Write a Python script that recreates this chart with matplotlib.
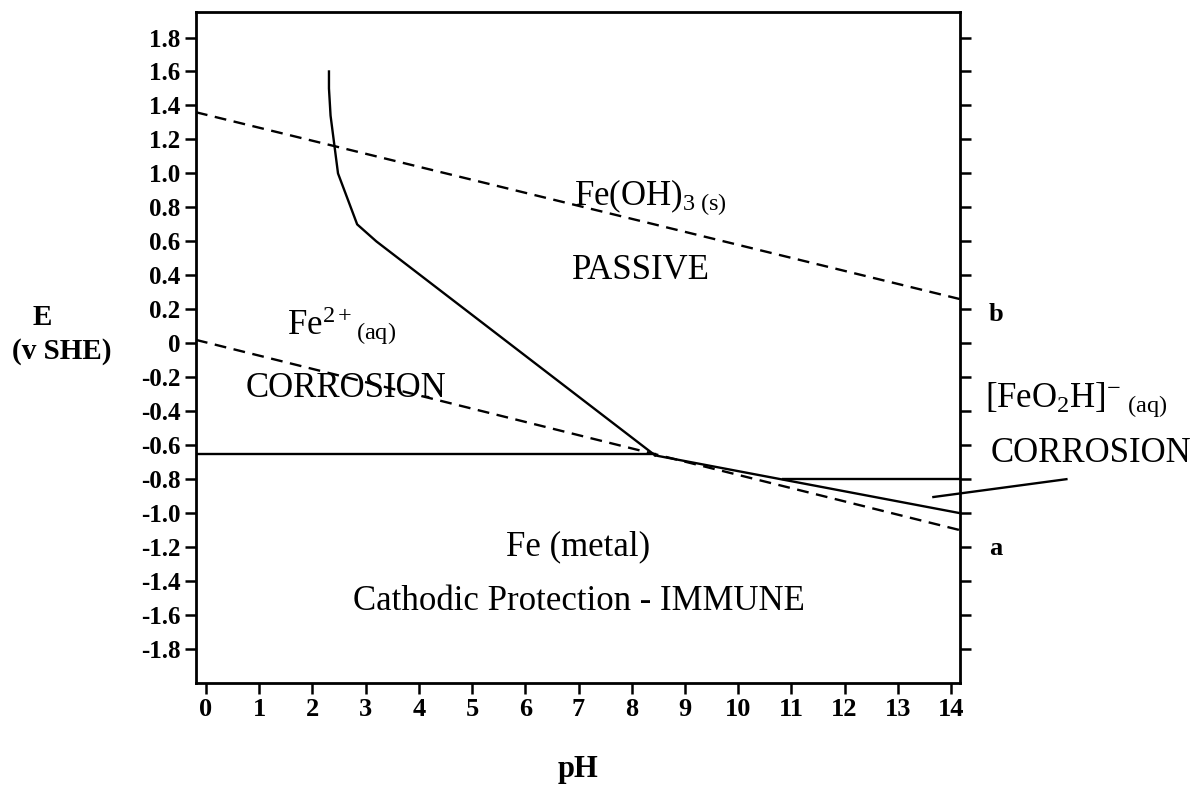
import matplotlib

matplotlib.use("Agg")
import matplotlib.pyplot as plt

plt.rcParams["font.family"] = "Liberation Serif"
plt.rcParams["mathtext.fontset"] = "custom"
plt.rcParams["mathtext.rm"] = "Liberation Serif"
plt.rcParams["mathtext.it"] = "Liberation Serif:italic"
plt.rcParams["mathtext.bf"] = "Liberation Serif:bold"

# Boundary lines (pH, E in V vs SHE)
line_b_ph = [-0.19, 14.17]
line_b_e = [1.36, 0.26]
line_a_ph = [-0.19, 14.17]
line_a_e = [0.02, -1.10]

fe2_metal_ph = [-0.19, 8.44]
fe2_metal_e = [-0.65, -0.65]

fe2_passive_ph = [2.31, 2.31, 2.34, 2.48, 2.84, 3.20, 8.44]
fe2_passive_e = [1.60, 1.50, 1.34, 1.00, 0.70, 0.60, -0.66]

metal_feo2h_ph = [8.44, 14.17]
metal_feo2h_e = [-0.66, -1.00]

passive_feo2h_ph = [10.85, 14.17]
passive_feo2h_e = [-0.80, -0.80]

leader_ph = [13.67, 16.17]
leader_e = [-0.905, -0.80]

x_ticks = list(range(0, 15))
y_ticks = [1.8, 1.6, 1.4, 1.2, 1.0, 0.8, 0.6, 0.4, 0.2, 0.0,
           -0.2, -0.4, -0.6, -0.8, -1.0, -1.2, -1.4, -1.6, -1.8]
y_tick_labels = ["1.8", "1.6", "1.4", "1.2", "1.0", "0.8", "0.6", "0.4", "0.2", "0",
                 "-0.2", "-0.4", "-0.6", "-0.8", "-1.0", "-1.2", "-1.4", "-1.6", "-1.8"]

fig = plt.figure(figsize=(11.97, 7.91), dpi=100)
ax = fig.add_axes([0.1637, 0.1365, 0.6383, 0.8483])
ax.set_xlim(-0.19, 14.17)
ax.set_ylim(-2.0, 1.95)

dash = (0, (5, 3.2))
ax.plot(line_b_ph, line_b_e, color="black", lw=1.7, linestyle=dash)
ax.plot(line_a_ph, line_a_e, color="black", lw=1.7, linestyle=dash)
ax.plot(fe2_metal_ph, fe2_metal_e, color="black", lw=1.7)
ax.plot(fe2_passive_ph, fe2_passive_e, color="black", lw=1.7)
ax.plot(metal_feo2h_ph, metal_feo2h_e, color="black", lw=1.7)
ax.plot(passive_feo2h_ph, passive_feo2h_e, color="black", lw=1.7)
ax.plot(leader_ph, leader_e, color="black", lw=1.7, clip_on=False)

for s in ax.spines.values():
    s.set_linewidth(2.0)

ax.set_xticks(x_ticks)
ax.set_xticklabels([str(t) for t in x_ticks], fontsize=19, fontweight="bold")
ax.set_yticks(y_ticks)
ax.set_yticklabels(y_tick_labels, fontsize=18, fontweight="bold")
ax.tick_params(axis="both", direction="out", length=8, width=1.8)
ax.tick_params(axis="y", right=True, labelright=False, pad=3)
ax.tick_params(axis="x", pad=3)

ax.set_xlabel("pH", fontsize=22, fontweight="bold", labelpad=24)

fig.text(0.035, 0.598, "E", fontsize=21, fontweight="bold", ha="center", va="center")
fig.text(0.052, 0.555, "(v SHE)", fontsize=21, fontweight="bold", ha="center", va="center")

fs = 25
ax.text(8.35, 0.86, r"Fe(OH)$_{\mathrm{3\ (s)}}$", fontsize=fs, ha="center", va="center")
ax.text(8.18, 0.43, "PASSIVE", fontsize=fs, ha="center", va="center")
ax.text(1.52, 0.10, r"Fe$^{\mathrm{2+}}$$_{\mathrm{(aq)}}$", fontsize=fs, ha="left", va="center")
ax.text(2.63, -0.265, "CORROSION", fontsize=fs, ha="center", va="center")
ax.text(7.0, -1.20, "Fe (metal)", fontsize=fs, ha="center", va="center")
ax.text(7.0, -1.52, "Cathodic Protection - IMMUNE", fontsize=fs, ha="center", va="center")

ax.text(14.85, 0.17, "b", fontsize=19, fontweight="bold", ha="center", va="center", clip_on=False)
ax.text(14.85, -1.21, "a", fontsize=19, fontweight="bold", ha="center", va="center", clip_on=False)
ax.text(14.64, -0.335, r"[FeO$_{\mathrm{2}}$H]$^{\mathrm{-}}$$_{\mathrm{\ (aq)}}$", fontsize=fs,
        ha="left", va="center", clip_on=False)
ax.text(14.74, -0.65, "CORROSION", fontsize=fs, ha="left", va="center", clip_on=False)

fig.savefig("out.png", dpi=100)
